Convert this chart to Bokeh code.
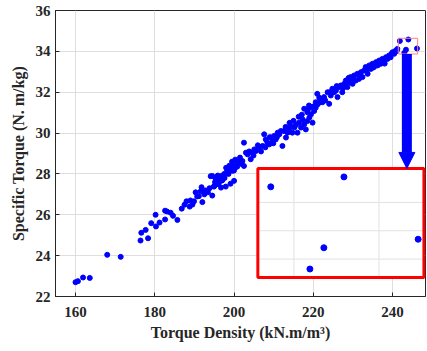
from bokeh.plotting import figure
from bokeh.models import Range1d, FixedTicker, Arrow, NormalHead
from bokeh.embed import file_html
from bokeh.resources import INLINE

# ---------------- data ----------------
torque_density = [
    160.0, 160.6, 161.9, 163.6, 168.0, 171.4,
    176.4, 178.3, 176.6, 177.7, 179.1, 180.2, 180.3, 181.2, 182.6, 182.6, 183.1, 184.0, 184.6, 185.7,
    187.5, 188.0, 188.8, 189.0, 189.9, 190.3, 191.1, 191.6, 191.8, 192.0, 192.8, 193.4, 194.1, 194.5,
    194.9, 195.4, 195.6, 195.9, 196.4, 197.0, 197.9, 198.3, 199.1, 199.1, 200.0, 200.8, 201.7,
    195.2, 195.8, 196.0, 196.8, 197.5, 198.0, 198.8, 199.5, 200.3, 201.0,
    194.5, 195.0, 195.4, 196.2, 197.1, 196.7, 198.3, 199.2, 199.6, 200.0, 200.3, 200.9, 201.5, 202.1,
    202.5, 202.5, 203.0, 203.4, 204.2, 204.6, 205.1, 205.5, 206.3, 207.2, 207.6, 208.0, 208.4, 208.9,
    209.3, 209.7, 210.1, 210.5, 211.0, 211.4, 211.8, 212.2, 213.1, 213.5, 213.9, 214.3, 214.7, 215.2,
    216.0, 216.4, 216.9, 217.3, 217.7, 218.1, 218.5, 219.0, 219.4, 219.8, 220.2, 220.6, 221.1, 221.5,
    217.7, 218.5, 218.9, 219.8, 220.6, 221.0, 221.9, 222.3, 222.7, 223.6, 224.0, 224.4, 224.8, 225.2,
    225.7, 226.1, 226.5, 226.9, 227.3, 227.8, 228.2, 228.6, 229.0, 229.4, 229.9, 230.3, 230.7, 231.1,
    231.5, 232.0, 232.4, 232.8, 233.2, 233.7, 234.1, 234.5, 234.9, 235.3, 235.8, 236.2, 236.6, 237.0,
    237.4, 237.9, 238.3, 238.7, 239.1, 239.5, 240.0, 240.4, 240.8, 241.2,
    203.8, 204.9, 206.0, 206.8, 207.9, 209.0, 209.9, 210.8, 212.6, 213.0, 214.0, 215.0, 215.6, 216.3,
    217.1, 218.8, 220.0, 221.6, 223.0, 224.2, 225.9, 227.5, 228.9, 230.0, 231.8, 233.5, 235.0, 236.4,
    238.0, 239.8, 241.0, 197.6, 198.6, 199.8, 193.8, 192.5, 190.7, 189.5, 186.8,
]
specific_torque = [
    22.70, 22.75, 22.93, 22.91, 24.04, 23.94,
    24.74, 24.85, 25.12, 25.26, 25.59, 26.00, 25.43, 25.62, 25.77, 26.20, 26.16, 26.10, 25.95, 25.75,
    26.49, 26.66, 26.40, 26.70, 26.66, 27.10, 26.91, 27.15, 27.35, 26.62, 27.19, 27.10, 27.89, 26.94,
    27.38, 27.52, 27.84, 27.92, 27.76, 27.68, 27.38, 28.20, 27.52, 28.25, 28.17, 28.36, 28.50,
    27.60, 27.70, 27.50, 27.90, 28.00, 28.30, 28.40, 28.60, 28.70, 28.60,
    27.90, 27.40, 27.74, 27.57, 27.74, 27.33, 28.15, 28.23, 28.15, 27.66, 28.31, 28.55, 28.80, 28.63,
    28.39, 29.53, 29.04, 28.96, 28.72, 29.04, 29.20, 29.12, 29.29, 29.37, 29.94, 29.69, 29.53, 29.45,
    29.78, 29.61, 29.86, 29.69, 30.02, 29.94, 30.10, 29.37, 29.78, 30.02, 30.18, 30.35, 30.02, 30.27,
    30.02, 30.51, 30.27, 30.67, 30.43, 30.18, 30.59, 30.76, 30.92, 30.51, 31.08, 31.24, 31.41, 31.73,
    31.19, 31.02, 31.35, 31.27, 31.51, 31.92, 31.68, 31.51, 31.76, 32.00, 31.43, 31.84, 32.17, 32.00,
    32.08, 31.76, 32.25, 32.33, 32.00, 32.41, 32.57, 32.25, 32.49, 32.74, 32.41, 32.82, 32.57, 32.90,
    32.65, 32.98, 32.74, 33.06, 33.23, 32.90, 33.31, 33.14, 33.39, 33.23, 33.47, 33.31, 33.55, 33.39,
    33.63, 33.55, 33.71, 33.63, 33.80, 33.71, 33.96, 33.88, 34.04, 34.12,
    29.10, 28.90, 29.40, 29.10, 29.30, 29.80, 29.50, 29.80, 30.10, 30.30, 30.50, 30.60, 30.40, 30.80,
    30.90, 31.20, 31.30, 31.50, 31.60, 32.00, 32.30, 32.20, 32.70, 32.60, 32.80, 33.10, 33.20, 33.40,
    33.40, 33.90, 34.00, 27.80, 28.00, 28.40, 27.30, 27.00, 26.90, 26.50, 26.30,
]
# the points inside the zoomed region (shown in the inset)
inset_density = [241.82, 243.97, 243.38, 242.97, 246.15]
inset_torque = [34.51, 34.58, 34.08, 33.93, 34.14]

x_ticks = [160, 180, 200, 220, 240]
y_ticks = [22, 24, 26, 28, 30, 32, 34, 36]
inset_x_grid = [242.5, 245.0]
inset_y_grid = [34.0, 34.2, 34.4]

# ranges / layout parameters
x_lim = (154.95, 248.3)
y_lim = (22.0, 36.0)
zoom_x = (241.44, 246.32)      # zoomed data window
zoom_y = (33.87, 34.64)
inset_box_x = (206.0, 247.9)   # where the inset sits, in main-axis units
inset_box_y = (22.93, 28.27)
arrow_x = 243.6

BLUE = "#0000ff"
FONT = "Liberation Serif"
TXT = "#262626"

p = figure(width=427, height=345, output_backend="svg", toolbar_location=None,
           x_range=Range1d(*x_lim), y_range=Range1d(*y_lim),
           min_border_left=55, min_border_right=2, min_border_top=10, min_border_bottom=49)

# inset ranges mapped onto the main frame
def extra(lim, box, zoom):
    s = (zoom[1] - zoom[0]) / (box[1] - box[0])
    return Range1d(zoom[0] + (lim[0] - box[0]) * s, zoom[0] + (lim[1] - box[0]) * s)

p.extra_x_ranges = {"ix": extra(x_lim, inset_box_x, zoom_x)}
p.extra_y_ranges = {"iy": extra(y_lim, inset_box_y, zoom_y)}

p.background_fill_color = "white"
p.border_fill_color = "white"
p.outline_line_color = TXT
p.outline_line_width = 1

p.xaxis.ticker = FixedTicker(ticks=x_ticks)
p.yaxis.ticker = FixedTicker(ticks=y_ticks)
for ax in (p.xaxis[0], p.yaxis[0]):
    ax.major_tick_in = 4
    ax.major_tick_out = 0
    ax.minor_tick_in = 0
    ax.minor_tick_out = 0
    ax.axis_line_color = TXT
    ax.major_tick_line_color = TXT
    ax.major_label_text_font = FONT
    ax.major_label_text_font_style = "bold"
    ax.major_label_text_font_size = "15px"
    ax.major_label_text_color = TXT
    ax.axis_label_text_font = FONT
    ax.axis_label_text_font_style = "bold"
    ax.axis_label_text_font_size = "16px"
    ax.axis_label_text_color = TXT

p.xaxis.axis_label = "Torque Density (kN.m/m\u00b3)"
p.yaxis.axis_label = "Specific Torque (N. m/kg)"
p.xaxis.major_label_standoff = 10
p.xaxis.axis_label_standoff = 4
p.yaxis.major_label_standoff = 5
p.yaxis.axis_label_standoff = 6

p.grid.grid_line_color = "#dedede"
p.grid.grid_line_width = 1

# main scatter
p.scatter(torque_density + inset_density, specific_torque + inset_torque,
          size=5, color=BLUE, line_color=BLUE)

# small zoom rectangle
p.quad(left=zoom_x[0], right=zoom_x[1], bottom=zoom_y[0], top=zoom_y[1],
       fill_color=None, line_color="#ff8080", line_width=1)

# inset: white background, grid, points, red border
p.quad(left=zoom_x[0], right=zoom_x[1], bottom=zoom_y[0], top=zoom_y[1],
       x_range_name="ix", y_range_name="iy", fill_color="white", line_color=None)
p.segment(x0=inset_x_grid, x1=inset_x_grid, y0=[zoom_y[0]] * len(inset_x_grid),
          y1=[zoom_y[1]] * len(inset_x_grid), x_range_name="ix", y_range_name="iy",
          line_color="#e2e2e2", line_width=1)
p.segment(y0=inset_y_grid, y1=inset_y_grid, x0=[zoom_x[0]] * len(inset_y_grid),
          x1=[zoom_x[1]] * len(inset_y_grid), x_range_name="ix", y_range_name="iy",
          line_color="#e2e2e2", line_width=1)
p.scatter(inset_density, inset_torque, x_range_name="ix", y_range_name="iy",
          size=6, color=BLUE, line_color=BLUE)
p.quad(left=zoom_x[0], right=zoom_x[1], bottom=zoom_y[0], top=zoom_y[1],
       x_range_name="ix", y_range_name="iy", fill_color=None, line_color="#ff0000", line_width=3)

# arrow from small box to inset
p.add_layout(Arrow(end=NormalHead(size=16, fill_color=BLUE, line_color=BLUE),
                   x_start=arrow_x, y_start=zoom_y[0], x_end=arrow_x, y_end=inset_box_y[1],
                   line_color=BLUE, line_width=10))

open("out.html", "w").write(file_html(p, INLINE))
